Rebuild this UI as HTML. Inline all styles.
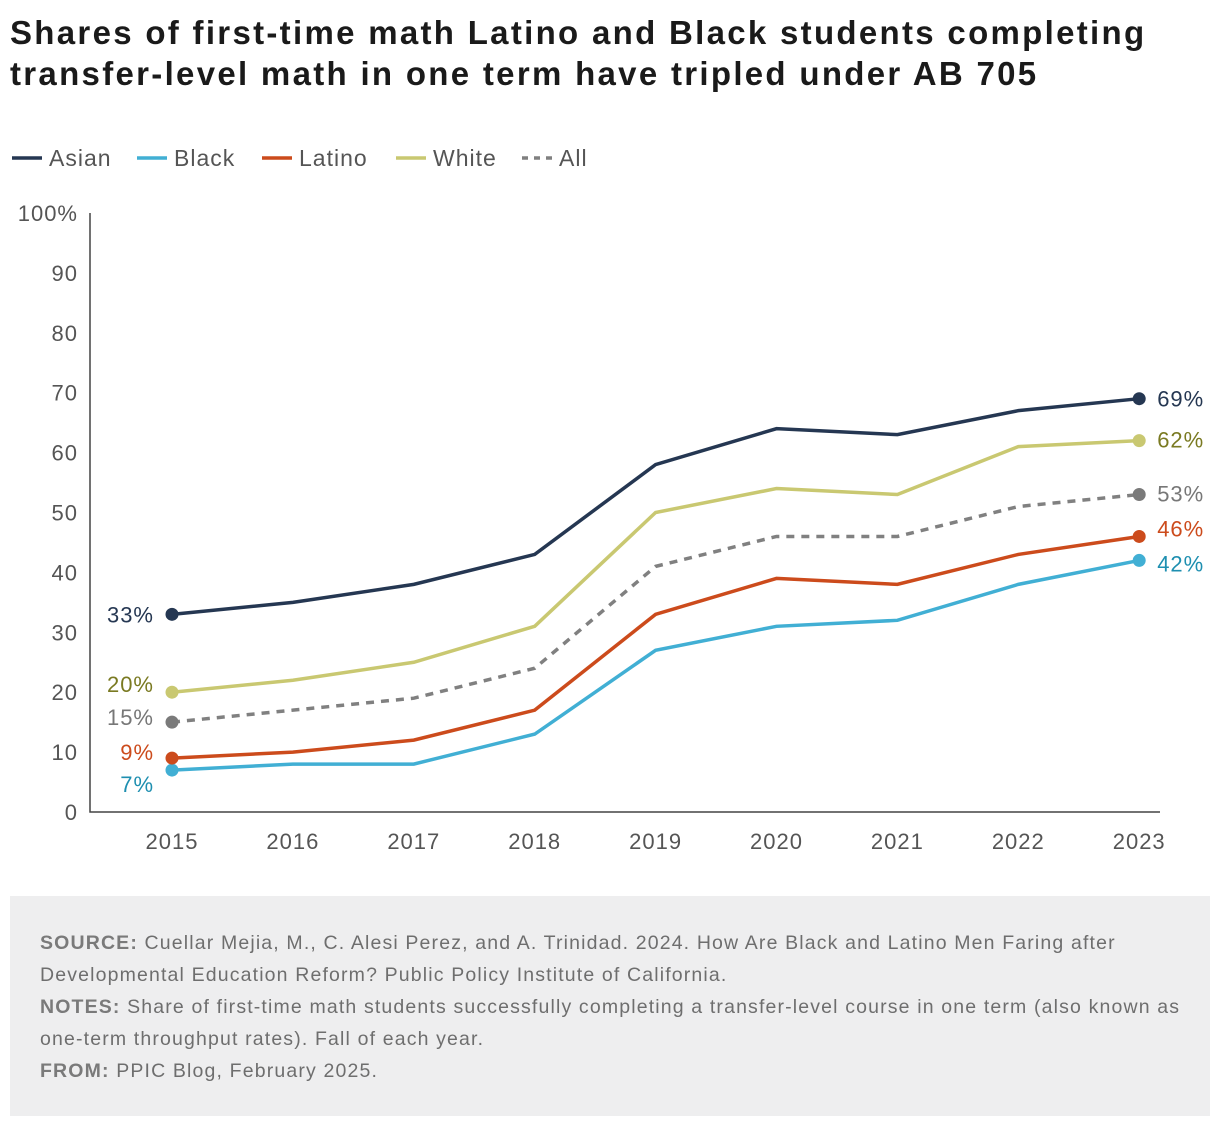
<!DOCTYPE html>
<html><head><meta charset="utf-8"><style>
body{margin:0;background:#fff;width:1220px;height:1126px;overflow:hidden;font-family:"Liberation Sans",sans-serif;}
#title{position:absolute;left:10px;top:12px;font-size:33px;font-weight:bold;color:#1a1a1a;line-height:41px;letter-spacing:2.3px;white-space:nowrap}
#foot{position:absolute;left:10px;top:896px;width:1200px;height:220px;background:#eeeeef}
#foot p{margin:0;position:absolute;left:30px;font-size:19.5px;color:#6e6e6e;line-height:32px;top:31px;width:1170px;letter-spacing:1.15px;white-space:nowrap}
#foot b{color:#7a7a7a}
</style></head><body>
<div id="title">Shares of first-time math Latino and Black students completing<br>transfer-level math in one term have tripled under AB 705</div>
<svg id="chart" width="1220" height="880" style="position:absolute;left:0;top:0"></svg>
<div id="foot"><p><b>SOURCE:</b> Cuellar Mejia, M., C. Alesi Perez, and A. Trinidad. 2024. How Are Black and Latino Men Faring after<br>Developmental Education Reform? Public Policy Institute of California.<br><b>NOTES:</b> Share of first-time math students successfully completing a transfer-level course in one term (also known as<br>one-term throughput rates). Fall of each year.<br><b>FROM:</b> PPIC Blog, February 2025.</p></div>
<script>
const years=["2015","2016","2017","2018","2019","2020","2021","2022","2023"];
const asian=[33,35,38,43,58,64,63,67,69];
const white=[20,22,25,31,50,54,53,61,62];
const all=[15,17,19,24,41,46,46,51,53];
const latino=[9,10,12,17,33,39,38,43,46];
const black=[7,8,8,13,27,31,32,38,42];
const yTicks=[0,10,20,30,40,50,60,70,80,90,100];
const NS="http://www.w3.org/2000/svg";
const svg=document.getElementById('chart');
const x=i=>172+i*120.9;
const y=v=>812-v*5.99;
function el(t,a,txt){const e=document.createElementNS(NS,t);for(const k in a)e.setAttribute(k,a[k]);if(txt!==undefined)e.textContent=txt;svg.appendChild(e);return e;}
const F='"Liberation Sans",sans-serif';
yTicks.forEach(v=>{const t=el('text',{x:78,y:y(v)+8,'text-anchor':'end','font-size':22,fill:'#555','font-family':F,'letter-spacing':1},v===100?'100%':v);

});
years.forEach((yr,i)=>{const t=el('text',{x:x(i),y:849,'text-anchor':'middle','font-size':22,fill:'#555','font-family':F,'letter-spacing':1},yr);

});
const ax=el('path',{d:'M90 213V812H1160',stroke:'#444','stroke-width':1.5,fill:'none'});


const series=[
 {n:'black',d:black,c:'#41afd4',lc:'#1e8fb0',dash:null},
 {n:'latino',d:latino,c:'#cc4b1c',lc:'#cc4b1c',dash:null},
 {n:'all',d:all,c:'#808080',lc:'#777',dash:'8 7'},
 {n:'white',d:white,c:'#c9c871',lc:'#7a7a22',dash:null},
 {n:'asian',d:asian,c:'#253752',lc:'#253752',dash:null}];
const firstOff={black:[-18,14],latino:[-18,-6],all:[-18,-5],white:[-18,-8],asian:[-18,0]};
const lastOff={black:3,latino:-8,all:-1,white:-1,asian:0};
series.forEach(s=>{
 const p=el('path',{d:s.d.map((v,i)=>(i?'L':'M')+x(i)+' '+y(v)).join(''),stroke:s.c,'stroke-width':3.5,fill:'none','stroke-dasharray':s.dash||'none'});
 
 
 [0,s.d.length-1].forEach(i=>{const c=el('circle',{cx:x(i),cy:y(s.d[i]),r:6.5,fill:s.n==='all'?'#7a7a7a':s.c});
 
 });
 const o=firstOff[s.n];
 const t1=el('text',{x:x(0)+o[0],y:y(s.d[0])+o[1]+8,'text-anchor':'end','font-size':22,fill:s.lc,'font-family':F,'letter-spacing':1},s.d[0]+'%');
 
 
 const L=s.d.length-1;
 const t2=el('text',{x:x(L)+18,y:y(s.d[L])+lastOff[s.n]+8,'font-size':22,fill:s.lc,'font-family':F,'letter-spacing':1},s.d[L]+'%');
 
 
});
const leg=[['Asian','#253752',null,12],['Black','#41afd4',null,137],['Latino','#cc4b1c',null,262],['White','#c9c871',null,396],['All','#808080','6 6',522]];
leg.forEach(l=>{const g=el('line',{x1:l[3],x2:l[3]+30,y1:158,y2:158,stroke:l[1],'stroke-width':3.5,'stroke-dasharray':l[2]||'none'});
 
 
 const t=el('text',{x:l[3]+37,y:166,'font-size':23,fill:'#555','font-family':F,'letter-spacing':1},l[0]);
 
 });
</script>
</body></html>
